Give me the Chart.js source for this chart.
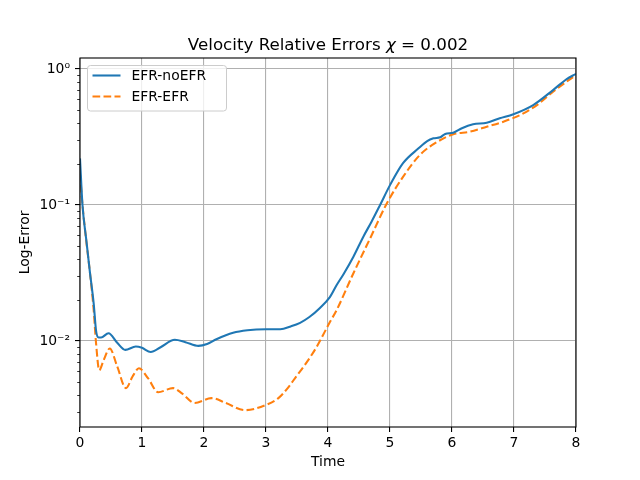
<!DOCTYPE html>
<html><head><meta charset="utf-8">
<script src="https://cdn.jsdelivr.net/npm/chart.js@4.4.0/dist/chart.umd.min.js"></script>
<style>html,body{margin:0;padding:0;background:#fff}</style>
</head><body>
<canvas id="c" width="640" height="480" style="width:640px;height:480px"></canvas>
<script>
// ---- data ----
const seriesNames = ['EFR-noEFR', 'EFR-EFR'];
const blueT = [0, 0.04, 0.1, 0.16, 0.22, 0.26, 0.3, 0.34, 0.46, 0.6, 0.73, 0.9, 1.0, 1.14, 1.3, 1.53, 1.7, 1.91, 2.05, 2.2, 2.47, 2.7, 3.0, 3.23, 3.4, 3.55, 3.7, 3.87, 4.03, 4.14, 4.25, 4.41, 4.57, 4.7, 4.84, 5.0, 5.21, 5.46, 5.6, 5.7, 5.81, 5.89, 6.02, 6.16, 6.34, 6.56, 6.77, 6.99, 7.31, 7.63, 7.85, 8.0];
const blueV = [0.22, 0.10, 0.056, 0.032, 0.019, 0.0118, 0.0106, 0.0106, 0.0114, 0.0097, 0.0086, 0.0091, 0.0089, 0.0083, 0.0090, 0.0102, 0.0098, 0.0092, 0.0095, 0.0103, 0.0115, 0.0120, 0.0122, 0.0122, 0.0128, 0.0136, 0.0150, 0.0175, 0.0210, 0.0258, 0.031, 0.0417, 0.0585, 0.075, 0.100, 0.140, 0.203, 0.261, 0.295, 0.309, 0.315, 0.333, 0.340, 0.367, 0.392, 0.403, 0.434, 0.465, 0.543, 0.70, 0.844, 0.92];
const orangeT = [0, 0.04, 0.1, 0.16, 0.22, 0.26, 0.31, 0.38, 0.48, 0.6, 0.74, 0.85, 0.95, 1.1, 1.26, 1.5, 1.65, 1.85, 2.12, 2.35, 2.66, 3.01, 3.2, 3.35, 3.49, 3.65, 3.82, 4.02, 4.14, 4.41, 4.68, 4.95, 5.21, 5.48, 5.75, 6.02, 6.29, 6.56, 6.83, 7.1, 7.37, 7.63, 8.0];
const orangeV = [0.17, 0.10, 0.055, 0.032, 0.017, 0.0095, 0.0061, 0.0072, 0.0088, 0.0065, 0.0045, 0.0055, 0.0063, 0.0053, 0.0042, 0.0045, 0.0041, 0.0035, 0.0038, 0.0035, 0.0031, 0.0034, 0.0038, 0.0045, 0.0055, 0.0069, 0.0091, 0.0135, 0.0169, 0.0315, 0.0569, 0.103, 0.161, 0.233, 0.289, 0.331, 0.346, 0.376, 0.410, 0.459, 0.543, 0.68, 0.905];
const xTicks = [0, 1, 2, 3, 4, 5, 6, 7, 8];
const yMajorTicks = [0.01, 0.1, 1];
const yTickLabels = ['10\u207B\u00B2', '10\u207B\u00B9', '10\u2070'];
const yMinorTicks = [0.003, 0.004, 0.005, 0.006, 0.007, 0.008, 0.009, 0.02, 0.03, 0.04, 0.05, 0.06, 0.07, 0.08, 0.09, 0.2, 0.3, 0.4, 0.5, 0.6, 0.7, 0.8, 0.9];
const titleParts = ['Velocity Relative Errors ', '\u03C7', ' = 0.002'];
const xLabel = 'Time';
const yLabel = 'Log-Error';

const FONT = "'DejaVu Sans', sans-serif";
Chart.defaults.font.family = FONT;
Chart.defaults.color = '#000';

const blueColor = '#1f77b4', orangeColor = '#ff7f0e';
const orangeDash = [7.7, 3.3];

const decor = {
  id: 'decor',
  afterDatasetsDraw(chart) {
    const c = chart.ctx, a = chart.chartArea, y = chart.scales.y;
    c.save();
    // minor ticks
    c.strokeStyle = '#000'; c.lineWidth = 0.8;
    yMinorTicks.forEach(v => {
      const py = Math.round(y.getPixelForValue(v)) + 0.5;
      if (py < a.top || py > a.bottom) return;
      c.beginPath(); c.moveTo(a.left, py); c.lineTo(a.left - 2.8, py); c.stroke();
    });
    // frame
    c.lineWidth = 1.1;
    c.strokeRect(a.left, a.top, a.right - a.left, a.bottom - a.top);
    c.restore();
  },
  afterDraw(chart) {
    const c = chart.ctx;
    c.save();
    // title
    const fs = 16.7;
    c.font = fs + 'px ' + FONT;
    const w0 = c.measureText(titleParts[0]).width;
    c.font = 'italic ' + fs + 'px ' + FONT;
    const w1 = c.measureText(titleParts[1]).width;
    c.font = fs + 'px ' + FONT;
    const w2 = c.measureText(titleParts[2]).width;
    const cx = (chart.chartArea.left + chart.chartArea.right) / 2;
    let x = cx - (w0 + w1 + w2) / 2;
    const by = 50;
    c.fillStyle = '#000'; c.textBaseline = 'alphabetic'; c.textAlign = 'left';
    c.fillText(titleParts[0], x, by); x += w0;
    c.font = 'italic ' + fs + 'px ' + FONT;
    c.fillText(titleParts[1], x, by); x += w1;
    c.font = fs + 'px ' + FONT;
    c.fillText(titleParts[2], x, by);

    // legend
    const lx = 87.5, ly = 65.5, lw = 139, lh = 45.5, r = 3;
    c.beginPath();
    c.moveTo(lx + r, ly); c.lineTo(lx + lw - r, ly); c.arcTo(lx + lw, ly, lx + lw, ly + r, r);
    c.lineTo(lx + lw, ly + lh - r); c.arcTo(lx + lw, ly + lh, lx + lw - r, ly + lh, r);
    c.lineTo(lx + r, ly + lh); c.arcTo(lx, ly + lh, lx, ly + lh - r, r);
    c.lineTo(lx, ly + r); c.arcTo(lx, ly, lx + r, ly, r); c.closePath();
    c.fillStyle = 'rgba(255,255,255,0.8)'; c.fill();
    c.strokeStyle = '#cccccc'; c.lineWidth = 1; c.stroke();
    const rows = [[blueColor, [], 75.5], [orangeColor, orangeDash, 96.5]];
    c.font = '13.9px ' + FONT; c.textBaseline = 'middle';
    rows.forEach((rw, i) => {
      c.beginPath(); c.setLineDash(rw[1]); c.strokeStyle = rw[0]; c.lineWidth = 2.08;
      c.moveTo(92.5, rw[2]); c.lineTo(120.5, rw[2]); c.stroke();
      c.setLineDash([]);
      c.fillStyle = '#000';
      c.fillText(seriesNames[i], 131.5, rw[2] + 0.5);
    });
    c.restore();
  }
};

new Chart(document.getElementById('c').getContext('2d'), {
  type: 'line',
  data: {
    datasets: [
      { label: seriesNames[0], data: blueT.map((t, i) => ({ x: t, y: blueV[i] })), borderColor: blueColor, borderWidth: 2.08, pointRadius: 0, cubicInterpolationMode: 'monotone', fill: false },
      { label: seriesNames[1], data: orangeT.map((t, i) => ({ x: t, y: orangeV[i] })), borderColor: orangeColor, borderWidth: 2.08, borderDash: orangeDash, pointRadius: 0, cubicInterpolationMode: 'monotone', fill: false }
    ]
  },
  options: {
    responsive: false, animation: false, devicePixelRatio: 1,
    layout: { padding: { left: 0, top: 58, right: 64, bottom: 0 } },
    plugins: { legend: { display: false }, title: { display: false }, tooltip: { enabled: false } },
    scales: {
      x: {
        type: 'linear', min: 0, max: 8,
        afterBuildTicks: s => { s.ticks = xTicks.map(v => ({ value: v })); },
        afterFit: s => { s.height = 53; },
        ticks: { padding: 3, maxRotation: 0, autoSkip: false, font: { size: 13.9 }, color: '#000', callback: v => String(v) },
        grid: { color: '#b0b0b0', lineWidth: 1.1, tickLength: 5, tickColor: '#000', tickWidth: 1.1 },
        border: { display: false },
        title: { display: true, text: xLabel, font: { size: 13.9 }, color: '#000', padding: { top: 0, bottom: 9.6 } }
      },
      y: {
        type: 'logarithmic', min: 0.00233, max: 1.205,
        afterBuildTicks: s => { s.ticks = yMajorTicks.map(v => ({ value: v })); },
        afterFit: s => { s.width = 80; },
        ticks: { padding: 5, autoSkip: false, font: { size: 13.9 }, color: '#000', callback: v => yTickLabels[yMajorTicks.indexOf(v)] },
        grid: { color: '#b0b0b0', lineWidth: 1.1, tickLength: 5, tickColor: '#000', tickWidth: 1.1 },
        border: { display: false },
        title: { display: true, text: yLabel, font: { size: 13.9 }, color: '#000', padding: { top: 16.6, bottom: 0 } }
      }
    }
  },
  plugins: [decor]
});
</script>
</body></html>
